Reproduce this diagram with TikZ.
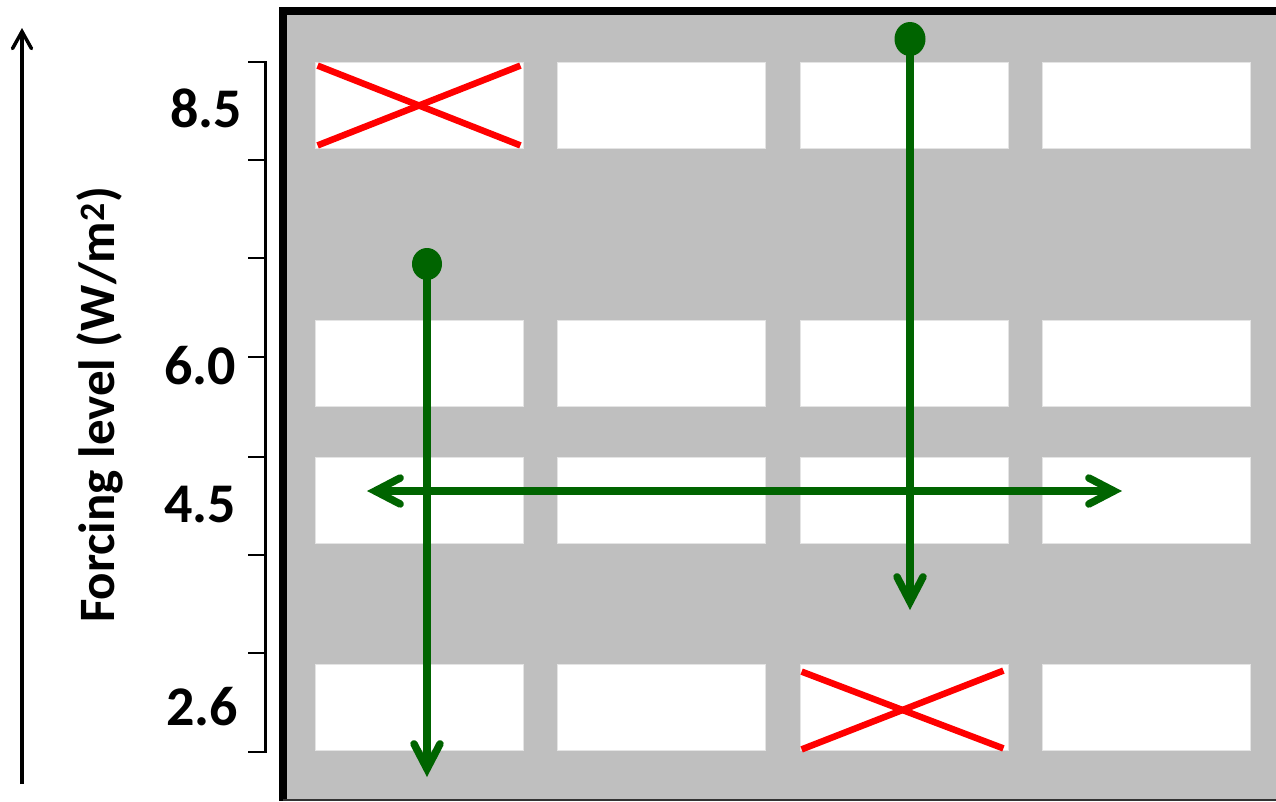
\documentclass[tikz,border=0pt]{standalone}
\usepackage{fontspec}
\setmainfont{Carlito}
\usetikzlibrary{arrows.meta}
\definecolor{panelgray}{RGB}{191,191,191}
\definecolor{pathgreen}{RGB}{0,100,0}
\definecolor{cellrim}{RGB}{228,228,228}
\tikzset{
  cell/.style={fill=white, draw=cellrim, line width=0.8pt, minimum width=208pt, minimum height=86pt, inner sep=0pt},
  cross/.style={draw=red, line width=6.5pt},
  greenpath/.style={draw=pathgreen, line width=7.5pt, -{Straight Barb[length=25pt,width=26pt,line cap=round]}},
  greendot/.style={fill=pathgreen},
  ticklabel/.style={font=\fontsize{56}{60}\selectfont\bfseries, inner sep=0pt, anchor=east},
  axistitle/.style={font=\fontsize{51}{56}\selectfont\bfseries, inner sep=0pt, rotate=90, anchor=base},
}
\begin{document}
\begin{tikzpicture}[x=1pt, y=-1pt]
\useasboundingbox (0,0) rectangle (1276,801);

% grey panel with its heavy frame
\fill[panelgray] (283,11) rectangle (1276,801);
\draw[line width=8pt] (283,801) -- (283,11) -- (1276,11);
\draw[line width=2pt, black!80] (283,800) -- (1276,800);

% grid of scenario cells
\foreach \c/\x in {1/419, 2/661.5, 3/904, 4/1146} {
  \foreach \r/\y in {1/105, 2/363, 3/500.5, 4/707} {
    \node[cell] (b\c\r) at (\x,\y) {};
  }
}

% excluded combinations
\draw[cross] ([shift={(3,4)}]b11.north west) -- ([shift={(-3,-3)}]b11.south east);
\draw[cross] ([shift={(3,-3)}]b11.south west) -- ([shift={(-3,4)}]b11.north east);
\draw[cross] ([shift={(2,8)}]b34.north west) -- ([shift={(-5,-2)}]b34.south east);
\draw[cross] ([shift={(2,-1)}]b34.south west) -- ([shift={(-5,7)}]b34.north east);

% green paths through the grid
\coordinate (s1) at (427,264);
\coordinate (e1) at (427,777);
\coordinate (s2) at (910,39);
\coordinate (e2) at (910,610);
\coordinate (hl) at (367,491);
\coordinate (hr) at (1122,491);
\coordinate (hm) at (744,491);
\draw[greenpath] (s1) -- (e1);
\draw[greenpath] (s2) -- (e2);
\draw[greenpath] (hm) -- (hl);
\draw[greenpath] (hm) -- (hr);
\fill[greendot] (s1) ellipse (15pt and 16pt);
\fill[greendot] (s2) ellipse (15.5pt and 17pt);

% forcing axis bracket with ticks
\coordinate (at) at (265.5,62);
\coordinate (ab) at (265.5,752);
\draw[line width=2.8pt] (at) -- (ab);
\foreach \y in {62,160,258,357,457,555,653,752} {
  \draw[line width=2.8pt] (248,\y) -- (266.9,\y);
}
\node[ticklabel] (l85) at (242,108) {8.5};
\node[ticklabel] (l60) at (236,366) {6.0};
\node[ticklabel] (l45) at (236,505) {4.5};
\node[ticklabel] (l26) at (238,707) {2.6};

% axis title and direction arrow
\node[axistitle] (title) at (114,405) {Forcing level (W/m\textsuperscript{2})};
\coordinate (ub) at (22,784);
\coordinate (ut) at (22,28);
\draw[line width=3.5pt, -{Straight Barb[length=17pt,width=19pt,line cap=round]}] (ub) -- (ut);
\end{tikzpicture}
\end{document}
